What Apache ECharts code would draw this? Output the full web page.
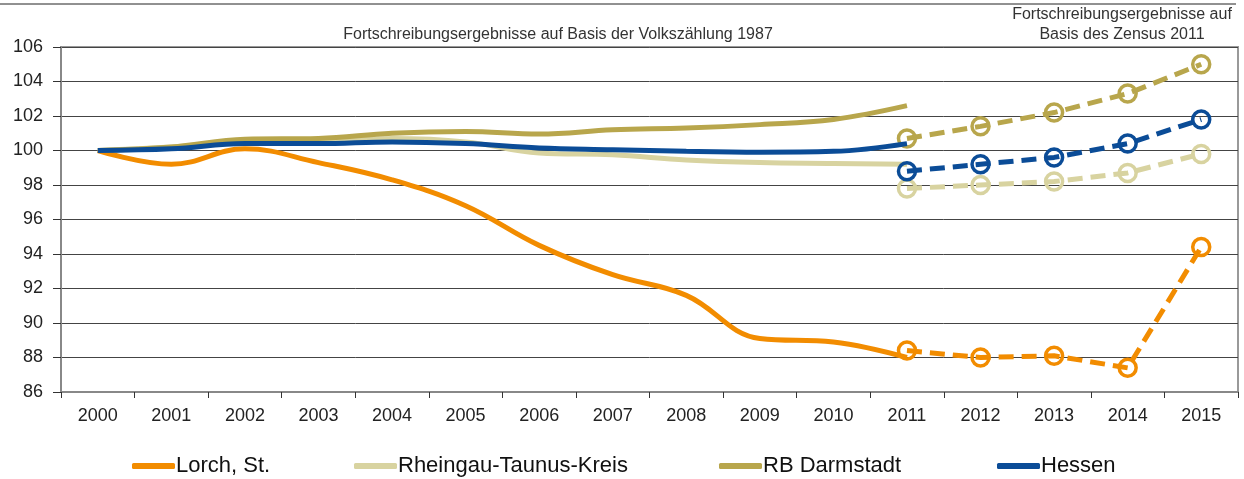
<!DOCTYPE html>
<html>
<head>
<meta charset="utf-8">
<script src="https://cdn.jsdelivr.net/npm/echarts@6/dist/echarts.min.js"></script>
<style>
  html, body { margin: 0; padding: 0; background: #fff; }
  #chart { width: 1244px; height: 479px; }
</style>
</head>
<body>
<div id="chart"></div>
<script>
const years = ['2000', '2001', '2002', '2003', '2004', '2005', '2006', '2007',
  '2008', '2009', '2010', '2011', '2012', '2013', '2014', '2015']

// Fortschreibung auf Basis Volkszählung 1987 (2000-2011)
const lorchOld = [100, 99.2, 100.1, 99.3, 98.3, 96.8, 94.5, 92.8, 91.6, 89.1, 88.9, 88.0]
const rheingauOld = [100, 100.2, 100.5, 100.5, 100.7, 100.5, 99.85, 99.75, 99.45, 99.3, 99.25, 99.2]
const darmstadtOld = [100, 100.2, 100.65, 100.7, 101.0, 101.1, 100.95, 101.2, 101.3, 101.5, 101.8, 102.6]
const hessenOld = [100, 100.1, 100.4, 100.4, 100.5, 100.4, 100.15, 100.05, 99.95, 99.9, 99.95, 100.4]

// Fortschreibung auf Basis Zensus 2011 (2011-2015)
const lorchNew = [88.4, 88.0, 88.1, 87.4, 94.4]
const rheingauNew = [97.8, 98.0, 98.2, 98.7, 99.8]
const darmstadtNew = [100.7, 101.4, 102.2, 103.3, 105.0]
const hessenNew = [98.8, 99.2, 99.6, 100.4, 101.8]

const names = ['Lorch, St.', 'Rheingau-Taunus-Kreis', 'RB Darmstadt', 'Hessen']
const colors = ['#F28C00', '#D8D3A0', '#B8A64C', '#0B4C97']

const chart = echarts.init(document.getElementById('chart'))

function oldPart(vals) {
  return vals.concat(new Array(years.length - vals.length).fill(null))
}
function newPart(vals) {
  return new Array(years.length - vals.length).fill(null).concat(vals)
}

const oldSets = [lorchOld, rheingauOld, darmstadtOld, hessenOld]
const newSets = [lorchNew, rheingauNew, darmstadtNew, hessenNew]

const series = []
names.forEach((n, i) => {
  series.push({
    name: n,
    type: 'line',
    color: colors[i],
    smooth: 0.4,
    symbol: 'none',
    lineStyle: { width: 5, color: colors[i] },
    data: oldPart(oldSets[i]),
    z: 2 + i
  })
  series.push({
    name: n + ' (Zensus 2011)',
    type: 'line',
    symbol: 'circle',
    symbolSize: 17,
    lineStyle: { width: 5, type: [15, 8], color: colors[i] },
    itemStyle: { color: 'rgba(0,0,0,0)', borderColor: colors[i], borderWidth: 3.5 },
    data: newPart(newSets[i]),
    z: 2 + i
  })
})

const legendLefts = [132, 354, 719, 997]

const option = {
  animation: false,
  grid: {
    left: 61, right: 6, top: 47, bottom: 87,
    show: true, borderColor: '#999', borderWidth: 2
  },
  legend: names.map((n, i) => ({
    data: [n],
    left: legendLefts[i],
    top: 455,
    padding: 0,
    icon: 'roundRect',
    itemWidth: 43,
    itemHeight: 6,
    textStyle: { fontFamily: 'Liberation Sans, Arial', fontSize: 22, color: '#111', padding: [0, 0, 0, -4] }
  })),
  graphic: [
    { type: 'line', shape: { x1: 0, y1: 4, x2: 1236, y2: 4 }, style: { stroke: '#222', lineWidth: 1 } },
    {
      type: 'text', x: 558, y: 35,
      style: { text: 'Fortschreibungsergebnisse auf Basis der Volkszählung 1987', align: 'center', verticalAlign: 'middle',
        font: '16px "Liberation Sans", Arial', fill: '#333' }
    },
    {
      type: 'text', x: 1122, y: 25,
      style: { text: 'Fortschreibungsergebnisse auf\nBasis des Zensus 2011', align: 'center', verticalAlign: 'middle',
        font: '16px "Liberation Sans", Arial', fill: '#333', lineHeight: 20 }
    }
  ],
  xAxis: {
    type: 'category',
    data: years,
    boundaryGap: true,
    axisLine: { lineStyle: { color: '#888', width: 2 } },
    axisTick: { show: true, length: 6, lineStyle: { color: '#333' } },
    axisLabel: { fontFamily: 'Liberation Sans, Arial', fontSize: 18, color: '#222', margin: 15 }
  },
  yAxis: {
    type: 'value',
    min: 86, max: 106, interval: 2,
    axisLine: { show: true, lineStyle: { color: '#888', width: 2 } },
    axisTick: { show: true, length: 8, lineStyle: { color: '#333' } },
    axisLabel: { fontFamily: 'Liberation Sans, Arial', fontSize: 18, color: '#222', margin: 18 },
    splitLine: { lineStyle: { color: '#444', width: 1 } }
  },
  series: series
}

chart.setOption(option)
</script>
</body>
</html>
